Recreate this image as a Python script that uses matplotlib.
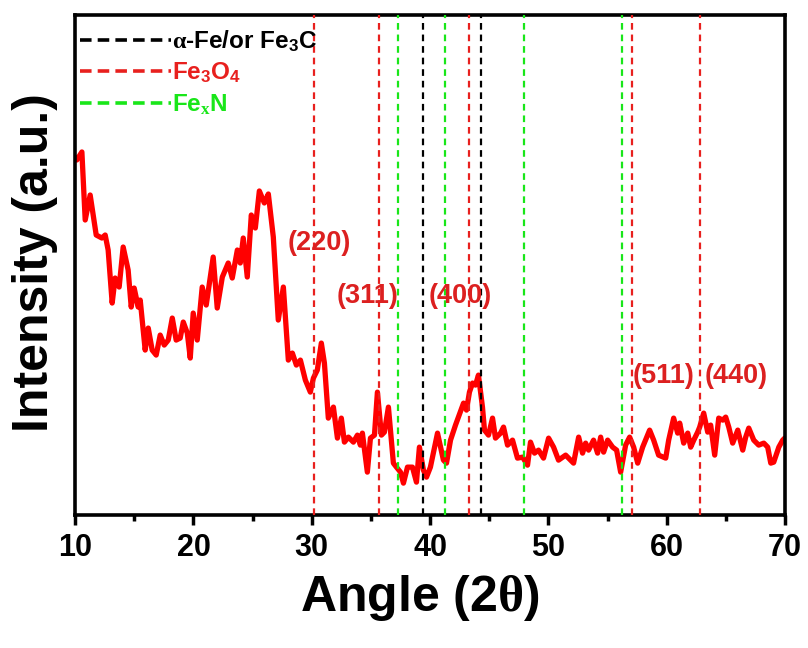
import matplotlib
matplotlib.use("Agg")
import matplotlib.pyplot as plt
from matplotlib.lines import Line2D
from matplotlib.ticker import MultipleLocator

plt.rcParams["font.family"] = ["Liberation Sans", "DejaVu Sans"]
plt.rcParams["font.weight"] = "bold"
plt.rcParams["mathtext.fontset"] = "custom"
plt.rcParams["mathtext.rm"] = "Liberation Sans:bold"
plt.rcParams["mathtext.bf"] = "Liberation Sans:bold"
plt.rcParams["mathtext.it"] = "Liberation Serif"

# XRD pattern (2-theta in degrees, intensity in arbitrary units)
two_theta = [
    10.05, 10.14, 10.57, 10.85, 11.27, 11.78, 12.26, 12.54, 12.79, 13.13,
    13.38, 13.72, 14.06, 14.48, 14.74, 14.99, 15.33, 15.50, 15.92, 16.18,
    16.51, 16.85, 17.19, 17.53, 17.87, 18.21, 18.54, 18.88, 19.14, 19.48,
    19.73, 19.98, 20.32, 20.74, 21.08, 21.67, 22.01, 22.44, 22.94, 23.28,
    23.71, 23.96, 24.21, 24.55, 24.89, 25.23, 25.57, 25.99, 26.33, 26.75,
    27.17, 27.60, 28.02, 28.36, 28.70, 29.04, 29.46, 29.88, 30.14, 30.47,
    30.81, 31.07, 31.40, 31.83, 32.17, 32.50, 32.76, 33.10, 33.52, 33.86,
    34.11, 34.28, 34.70, 34.96, 35.30, 35.55, 35.89, 36.14, 36.48, 36.90,
    37.16, 37.50, 37.75, 38.09, 38.51, 38.85, 39.10, 39.44, 39.70, 40.03,
    40.63, 41.13, 41.39, 41.73, 42.15, 42.40, 42.83, 43.08, 43.33, 43.59,
    43.84, 44.09, 44.43, 44.60, 44.94, 45.28, 45.53, 45.96, 46.21, 46.55,
    46.97, 47.39, 47.82, 48.24, 48.49, 48.83, 49.17, 49.59, 50.02, 50.44,
    50.86, 51.46, 52.13, 52.56, 52.89, 53.15, 53.40, 53.82, 54.16, 54.42,
    54.67, 55.01, 55.43, 55.77, 56.11, 56.53, 56.87, 57.21, 57.55, 57.97,
    58.56, 58.90, 59.32, 59.92, 60.17, 60.59, 60.93, 61.10, 61.44, 61.78,
    62.03, 62.29, 62.62, 62.79, 63.13, 63.47, 63.72, 64.06, 64.40, 64.74,
    64.99, 65.25, 65.58, 66.01, 66.43, 66.68, 66.94, 67.36, 67.78, 68.21,
    68.54, 68.80, 69.05, 69.48, 69.81, 69.98,
]
intensity = [
    357, 355, 363, 295, 320, 280, 277, 280, 265, 212,
    237, 228, 268, 245, 208, 227, 208, 215, 165, 187,
    165, 160, 180, 170, 175, 197, 175, 177, 193, 182,
    157, 202, 175, 228, 210, 258, 207, 238, 252, 237,
    265, 252, 277, 238, 300, 287, 324, 312, 321, 278,
    195, 228, 155, 162, 150, 155, 135, 123, 137, 145,
    172, 152, 97, 108, 77, 97, 73, 78, 73, 80,
    70, 82, 43, 77, 80, 123, 80, 83, 108, 52,
    48, 43, 32, 48, 48, 33, 68, 45, 38, 48,
    82, 55, 52, 75, 90, 98, 112, 105, 123, 132,
    130, 140, 108, 85, 80, 97, 77, 82, 88, 70,
    75, 57, 58, 50, 73, 62, 65, 57, 77, 68,
    55, 60, 52, 78, 62, 72, 65, 75, 62, 78,
    63, 75, 68, 65, 43, 70, 78, 68, 52, 68,
    85, 75, 60, 57, 75, 97, 82, 92, 72, 82,
    68, 75, 83, 88, 102, 83, 90, 60, 97, 95,
    98, 88, 72, 85, 65, 78, 87, 75, 70, 72,
    68, 52, 53, 68, 75, 77,
]

# Reference peak positions for each phase
alpha_fe_peaks = [39.4, 44.3]
fe3o4_peaks = [30.2, 35.7, 43.3, 57.1, 62.8]
fexn_peaks = [37.3, 41.3, 47.9, 56.2]

# Fe3O4 reflections (hkl) and where their labels sit
hkl_labels = ["(220)", "(311)", "(400)", "(511)", "(440)"]
hkl_x = [30.64, 34.7, 42.57, 59.75, 65.9]
hkl_y = [272, 219, 219, 139, 139]

c_black = "#000000"
c_red = "#e8201e"
c_green = "#19e619"

fig = plt.figure(figsize=(8.08, 6.48), dpi=100)
ax = fig.add_axes([0.093, 0.205, 0.8785, 0.772])

ax.plot(two_theta, intensity, color="#ff0000", lw=3.8, solid_joinstyle="round",
        solid_capstyle="round", zorder=2)

dash = (0, (3.0, 2.2))
for x in fe3o4_peaks:
    ax.axvline(x, color=c_red, lw=1.6, ls=dash, zorder=3)
for x in alpha_fe_peaks:
    ax.axvline(x, color=c_black, lw=1.6, ls=dash, zorder=3)
for x in fexn_peaks:
    ax.axvline(x, color=c_green, lw=1.6, ls=dash, zorder=3)

for lab, x, y in zip(hkl_labels, hkl_x, hkl_y):
    ax.text(x, y, lab, color="#dc2020", fontsize=19.5, fontweight="bold",
            ha="center", va="center", zorder=4)

handles = [
    Line2D([], [], color=c_black, lw=2.6, ls=(0, (3.2, 1.7))),
    Line2D([], [], color=c_red, lw=2.6, ls=(0, (3.2, 1.7))),
    Line2D([], [], color=c_green, lw=2.6, ls=(0, (3.2, 1.7))),
]
labels = [r"$\alpha$-Fe/or Fe$_3$C", r"Fe$_3$O$_4$", r"Fe$_x$N"]
leg = ax.legend(handles, labels, loc="upper left", frameon=False,
                fontsize=17.5, handlelength=3.75, handletextpad=0.05,
                borderaxespad=0.0, borderpad=0.55, labelspacing=0.3,
                labelcolor=[c_black, c_red, c_green])
leg.set_bbox_to_anchor((-0.012, 1.0), transform=ax.transAxes)

ax.set_xlim(10, 70)
ax.set_ylim(0, 500)
ax.xaxis.set_major_locator(MultipleLocator(10))
ax.xaxis.set_minor_locator(MultipleLocator(5))
ax.tick_params(axis="x", which="major", direction="out", length=7, width=2.5,
               labelsize=22, pad=6)
ax.tick_params(axis="x", which="minor", direction="out", length=4, width=2.5)
ax.set_yticks([])
for lab in ax.get_xticklabels():
    lab.set_fontweight("bold")
for sp in ax.spines.values():
    sp.set_linewidth(2.6)

ax.set_xlabel(r"Angle (2$\theta$)", fontsize=36, fontweight="bold", labelpad=2)
ax.xaxis.set_label_coords(0.485, -0.115)
ax.set_ylabel("Intensity (a.u.)", fontsize=36, fontweight="bold", labelpad=12)
ax.yaxis.set_label_coords(-0.024, 0.505)

fig.savefig("out.png", dpi=100)
